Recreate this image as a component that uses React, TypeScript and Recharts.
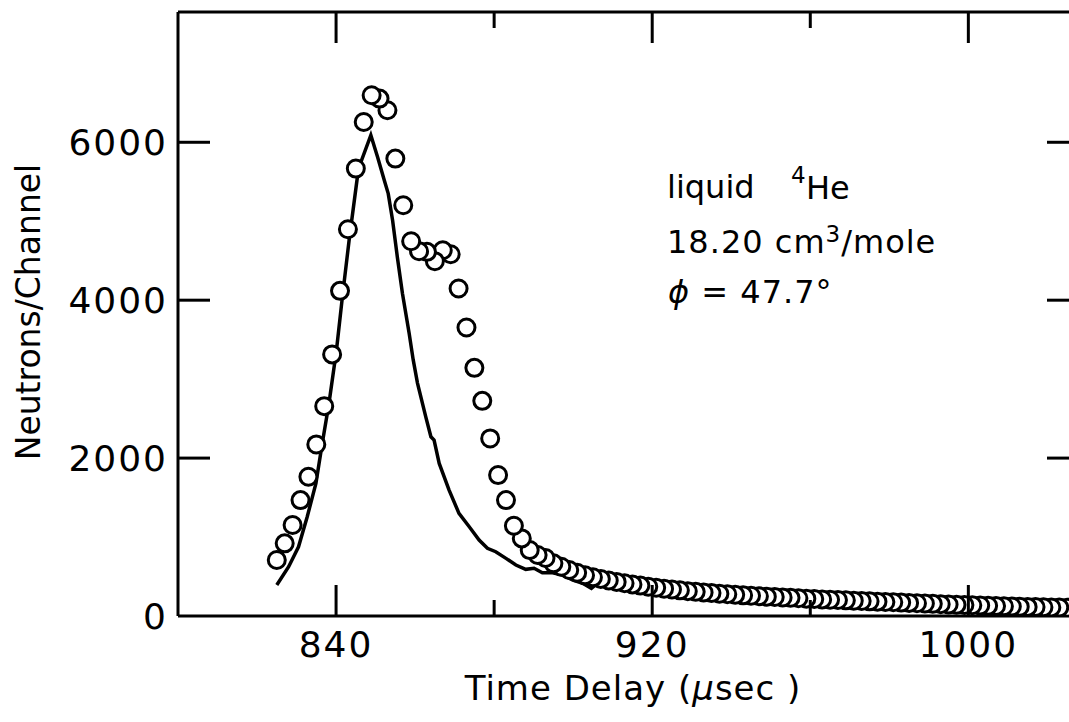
import { ComposedChart, Line, Scatter, XAxis, YAxis, Customized } from 'recharts';

// measured points (circles), time in µsec
const circleT = [
  825, 827, 829, 831, 833, 835, 837, 839, 841, 843, 845, 847, 849, 851, 853, 855, 857, 859, 861, 863,
  865, 867, 869, 871, 873, 875, 877, 879, 881, 883, 885, 887, 889, 891, 893, 895, 897, 899, 901, 903,
  905, 907, 909, 911, 913, 915, 917, 919, 921, 923, 925, 927, 929, 931, 933, 935, 937, 939, 941, 943,
  945, 947, 949, 951, 953, 955, 957, 959, 961, 963, 965, 967, 969, 971, 973, 975, 977, 979, 981, 983,
  985, 987, 989, 991, 993, 995, 997, 999, 1001, 1003, 1005, 1007, 1009, 1011, 1013, 1015, 1017, 1019,
  1021, 1023, 1025, 1027,
];
const circleN = [
  709, 920, 1152, 1468, 1763, 2173, 2658, 3313, 4118, 4899, 5667, 6257, 6595, 6553, 6405, 5793, 5203, 4747, 4620, 4612,
  4494, 4633, 4582, 4148, 3654, 3143, 2725, 2249, 1785, 1468, 1143, 983, 835, 772, 734, 667, 624, 582, 548, 515,
  490, 470, 450, 432, 415, 400, 385, 370, 358, 346, 335, 325, 315, 306, 298, 290, 282, 275, 268, 262,
  256, 250, 245, 240, 235, 230, 225, 220, 215, 210, 206, 202, 198, 194, 190, 186, 182, 178, 174, 170,
  166, 162, 158, 154, 150, 146, 142, 139, 136, 133, 130, 127, 124, 121, 118, 115, 113, 111,
  109, 107, 105, 103,
];

// calculated curve (solid line)
const lineT = [
  825, 828, 830.5, 832.7, 834.9, 836.5, 838.2, 840.1, 841.6, 843.3, 845.4, 846.3, 848.8, 850.5, 852.2,
  853.2, 854.3, 855.5, 856.8, 858.5, 859.5, 860.6, 862.7, 864, 864.8, 866.1, 868.6, 871.1, 873.7, 876.2,
  878.3, 880.4, 883, 885.5, 888, 890.1, 892.2, 894.8, 897.3, 899.8, 902.4, 904.6, 906.5, 910, 915,
  920, 930, 940, 950, 960, 970, 980, 990, 1000, 1010, 1020, 1028,
];
const lineN = [
  392, 624, 877, 1257, 1680, 2186, 2692, 3367, 4042, 4759, 5561, 5751, 6089, 5814, 5519,
  5350, 5013, 4548, 4085, 3578, 3250, 2950, 2523, 2270, 2228, 1933, 1595, 1300, 1131, 962,
  857, 814, 730, 646, 591, 604, 548, 548, 519, 456, 414, 350, 430, 420, 385,
  345, 290, 255, 228, 205, 182, 162, 143, 125, 110, 98, 92,
];

const xTicks = [840, 880, 920, 960, 1000];
const xLabelled = [840, 920, 1000];
const yTicks = [0, 2000, 4000, 6000];
const xDomain: [number, number] = [800, 1028];
const yDomain: [number, number] = [0, 7650];

const circleData = circleT.map((t, i) => ({ t, n: circleN[i] })).reverse();
const lineData = lineT.map((t, i) => ({ t, n: lineN[i] }));

const FONT = '"DejaVu Sans", sans-serif';
const W = 1100;
const H = 722;
const M_TOP = 11; // + 1px top axis = plot top at 12
const M_RIGHT = 20; // + 1px right axis = plot right at 1079
const LEFT_W = 178;
const BOTTOM_H = 106;
const PLOT_TOP = M_TOP + 1;
const PLOT_RIGHT = W - M_RIGHT - 1;

const BottomTick = (props: any) => {
  const { x, payload } = props;
  const y = H - BOTTOM_H;
  const long = xLabelled.includes(payload.value);
  return (
    <g>
      <line x1={x} x2={x} y1={y} y2={y - (long ? 31 : 16)} stroke="#000" strokeWidth={3} />
      {long && (
        <text x={x} y={y + 41} textAnchor="middle" fontSize={36} letterSpacing={2} fontFamily={FONT} fill="#000">
          {payload.value}
        </text>
      )}
    </g>
  );
};

const TopTick = (props: any) => {
  const { x, payload } = props;
  const long = xLabelled.includes(payload.value);
  return <line x1={x} x2={x} y1={PLOT_TOP} y2={PLOT_TOP + (long ? 31 : 16)} stroke="#000" strokeWidth={3} />;
};

const LeftTick = (props: any) => {
  const { y, payload } = props;
  const x = LEFT_W;
  return (
    <g>
      {payload.value !== 0 && <line x1={x} x2={x + 32} y1={y} y2={y} stroke="#000" strokeWidth={3} />}
      <text x={x - 10} y={y + 13} textAnchor="end" fontSize={36} letterSpacing={2} fontFamily={FONT} fill="#000">
        {payload.value}
      </text>
    </g>
  );
};

const RightTick = (props: any) => {
  const { y } = props;
  return <line x1={PLOT_RIGHT} x2={PLOT_RIGHT - 32} y1={y} y2={y} stroke="#000" strokeWidth={3} />;
};

const Circle = (props: any) => {
  const { cx, cy } = props;
  return <circle cx={cx} cy={cy} r={8.5} fill="#fff" stroke="#000" strokeWidth={3} />;
};

const Texts = () => (
  <g fontFamily={FONT} fill="#000">
    <text x={633} y={700} textAnchor="middle" fontSize={34} letterSpacing={1}>
      Time Delay (<tspan fontStyle="italic">μ</tspan>sec )
    </text>
    <text x={40} y={312} transform="rotate(-90 40 312)" textAnchor="middle" fontSize={33}>
      Neutrons/Channel
    </text>
    <text x={667} y={198} fontSize={32}>liquid</text>
    <text x={791} y={183} fontSize={23}>4</text>
    <text x={806} y={199} fontSize={32}>He</text>
    <text x={667} y={253} fontSize={32} letterSpacing={1}>
      18.20 cm<tspan dy={-11} fontSize={23}>3</tspan><tspan dy={11}>/mole</tspan>
    </text>
    <text x={668} y={303} fontSize={32} letterSpacing={1}>
      <tspan fontStyle="italic">ϕ</tspan> = 47.7°
    </text>
  </g>
);

const axisLine = { stroke: '#000', strokeWidth: 3 };

export default function App() {
  return (
    <div style={{ position: 'absolute', left: 0, top: 0, width: 1069, height: 722, overflow: 'hidden', background: '#fff' }}>
      <ComposedChart width={W} height={H} margin={{ top: M_TOP, right: M_RIGHT, bottom: 0, left: 0 }}>
        <XAxis
          type="number"
          dataKey="t"
          domain={xDomain}
          allowDataOverflow
          ticks={xTicks}
          interval={0}
          height={BOTTOM_H}
          axisLine={axisLine}
          tickLine={false}
          tickSize={0}
          tickMargin={0}
          tick={<BottomTick />}
        />
        <XAxis
          xAxisId="top"
          orientation="top"
          type="number"
          dataKey="t"
          domain={xDomain}
          allowDataOverflow
          ticks={xTicks}
          interval={0}
          height={1}
          axisLine={axisLine}
          tickLine={false}
          tickSize={0}
          tickMargin={0}
          tick={<TopTick />}
        />
        <YAxis
          type="number"
          dataKey="n"
          domain={yDomain}
          allowDataOverflow
          ticks={yTicks}
          interval={0}
          width={LEFT_W}
          axisLine={axisLine}
          tickLine={false}
          tickSize={0}
          tickMargin={0}
          tick={<LeftTick />}
        />
        <YAxis
          yAxisId="right"
          orientation="right"
          type="number"
          dataKey="n"
          domain={yDomain}
          allowDataOverflow
          ticks={[2000, 4000, 6000]}
          interval={0}
          width={1}
          axisLine={axisLine}
          tickLine={false}
          tickSize={0}
          tickMargin={0}
          tick={<RightTick />}
        />
        <Line
          xAxisId="top"
          yAxisId="right"
          data={lineData}
          dataKey="n"
          type="linear"
          stroke="#000"
          strokeWidth={3.5}
          dot={false}
          isAnimationActive={false}
        />
        <Scatter data={circleData} dataKey="n" shape={<Circle />} isAnimationActive={false} />
        <Customized component={Texts} />
      </ComposedChart>
    </div>
  );
}
